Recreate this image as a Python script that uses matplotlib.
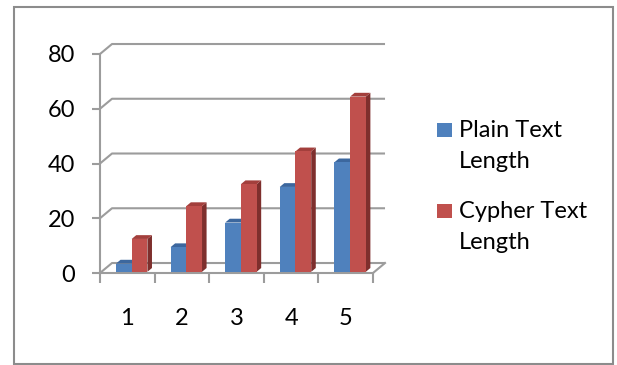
import matplotlib.pyplot as plt
from matplotlib.patches import Polygon, Rectangle

# data
categories = ["1", "2", "3", "4", "5"]
plain_len = [3, 9, 18, 31, 40]
cypher_len = [12, 24, 32, 44, 64]
series_names = ["Plain Text Length", "Cypher Text Length"]
legend_lines = [["Plain Text", "Length"], ["Cypher Text", "Length"]]
y_ticks = [0, 20, 40, 60, 80]

FRONT = ["#4F81BD", "#C0504D"]
TOP = ["#3C679E", "#A33F3C"]
SIDE = ["#345A89", "#7E2F2D"]
GRID = "#9C9C9C"
FS = 17

W, H = 617, 365
OX, OY = 0.22, 3.65      # oblique depth offset of the back wall (data units)
D0, D1 = 0.12, 0.50      # bar front / back depth (fraction of wall depth)
BW = 0.288               # bar width in category units
X0 = 0.266               # left edge of a pair inside its category

plt.rcParams["font.family"] = ["Lato", "DejaVu Sans"]

fig = plt.figure(figsize=(W / 100, H / 100), dpi=100)
ax = fig.add_axes([100 / W, (H - 273) / H, 273 / W, 219 / H])
ax.set_xlim(0, len(categories))
ax.set_ylim(0, 80)
ax.patch.set_alpha(0)

for s in ("top", "right"):
    ax.spines[s].set_visible(False)
for s in ("left", "bottom"):
    ax.spines[s].set_color(GRID)
    ax.spines[s].set_linewidth(1.5)

# side wall + back wall gridlines
n = len(categories)
for t in y_ticks:
    ax.plot([0, OX, n + OX], [t, t + OY, t + OY], color=GRID, lw=1.5,
            clip_on=False, zorder=1, solid_capstyle="butt")
ax.plot([n, n + OX], [0, OY], color=GRID, lw=1.5, clip_on=False, zorder=1)

# ticks
ax.set_yticks(y_ticks)
ax.set_yticklabels([str(t) for t in y_ticks], fontsize=FS)
ax.tick_params(axis="y", direction="out", length=6, width=1.5, color=GRID, pad=12)
ax.set_xticks(range(n + 1))
ax.set_xticklabels([])
ax.tick_params(axis="x", which="major", direction="out", length=7, width=1.5, color=GRID)
ax.set_xticks([i + 0.5 for i in range(n)], minor=True)
ax.set_xticklabels(categories, minor=True, fontsize=FS)
ax.tick_params(axis="x", which="minor", length=0, pad=25)

# 3d-looking columns
dd = D1 - D0
for i in range(n):
    for k, vals in enumerate((plain_len, cypher_len)):
        v = vals[i]
        xl = i + X0 + k * BW + D0 * OX
        yb = D0 * OY
        yt = v + yb
        side = Polygon([(xl + BW, yb), (xl + BW, yt), (xl + BW + dd * OX, yt + dd * OY),
                        (xl + BW + dd * OX, yb + dd * OY)],
                       closed=True, fc=SIDE[k], ec="none", zorder=3, clip_on=False)
        top = Polygon([(xl, yt), (xl + BW, yt), (xl + BW + dd * OX, yt + dd * OY),
                       (xl + dd * OX, yt + dd * OY)],
                      closed=True, fc=TOP[k], ec="none", zorder=3, clip_on=False)
        ax.add_patch(side)
        ax.add_patch(top)
        ax.bar(xl, v, width=BW, bottom=yb, align="edge", color=FRONT[k],
               zorder=3, clip_on=False, label=series_names[k] if i == 0 else None)

# legend drawn by hand to match the wrapped layout
for k, (sq_top, base) in enumerate([(123, 137), (204, 218)]):
    fig.add_artist(Rectangle((437 / W, (H - sq_top - 14) / H), 15 / W, 14 / H,
                             transform=fig.transFigure, fc=FRONT[k], ec="none"))
    for j, line in enumerate(legend_lines[k]):
        fig.text(459 / W, (H - base - 31 * j) / H, line, fontsize=FS,
                 va="baseline", ha="left")

# chart border
fig.add_artist(Rectangle((14 / W, 1 / H), 599 / W, 357 / H, transform=fig.transFigure,
                         fill=False, ec="#8C8C8C", lw=1.5))

fig.savefig("out.png", dpi=100)
